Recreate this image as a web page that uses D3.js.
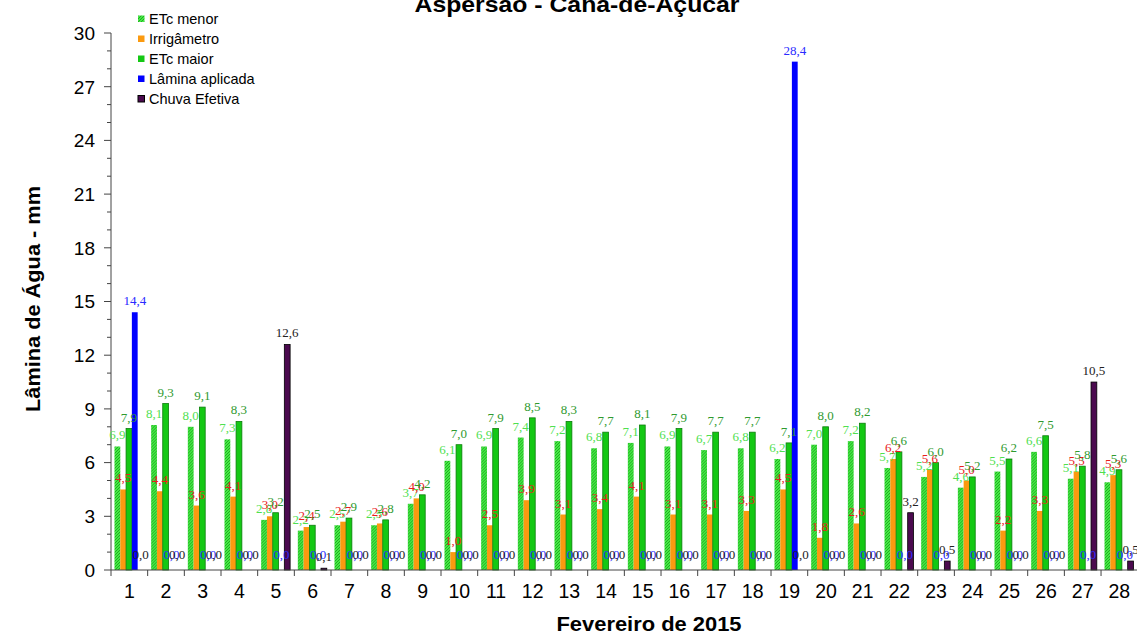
<!DOCTYPE html>
<html>
<head>
<meta charset="utf-8">
<script src="https://cdn.jsdelivr.net/npm/d3@7"></script>
<style>
  body { margin: 0; background: #fff; }
  text { font-family: "Liberation Sans", Arial, sans-serif; }
</style>
</head>
<body>
<script>
// dados
const dias = d3.range(1, 29);
const etcMenor = [6.9, 8.1, 8.0, 7.3, 2.8, 2.2, 2.5, 2.5, 3.7, 6.1, 6.9, 7.4, 7.2, 6.8,
  7.1, 6.9, 6.7, 6.8, 6.2, 7.0, 7.2, 5.7, 5.2, 4.6, 5.5, 6.6, 5.1, 4.9];
const irrigametro = [4.5, 4.4, 3.6, 4.1, 3.0, 2.4, 2.7, 2.6, 4.0, 1.0, 2.5, 3.9, 3.1, 3.4,
  4.1, 3.1, 3.1, 3.3, 4.5, 1.8, 2.6, 6.2, 5.6, 5.0, 2.2, 3.3, 5.5, 5.3];
const etcMaior = [7.9, 9.3, 9.1, 8.3, 3.2, 2.5, 2.9, 2.8, 4.2, 7.0, 7.9, 8.5, 8.3, 7.7,
  8.1, 7.9, 7.7, 7.7, 7.1, 8.0, 8.2, 6.6, 6.0, 5.2, 6.2, 7.5, 5.8, 5.6];
const laminaAplicada = [14.4, 0, 0, 0, 0, 0, 0, 0, 0, 0, 0, 0, 0, 0,
  0, 0, 0, 0, 28.4, 0, 0, 0, 0, 0, 0, 0, 0, 0];
const chuvaEfetiva = [0, 0, 0, 0, 12.6, 0.1, 0, 0, 0, 0, 0, 0, 0, 0,
  0, 0, 0, 0, 0, 0, 0, 3.2, 0.5, 0, 0, 0, 10.5, 0.5];
const yTicks = d3.range(0, 31, 3);

const series = [
  { nome: 'ETc menor', valores: etcMenor, fill: 'url(#padraoMenor)', stroke: 'none', rotulo: '#4fe04f' },
  { nome: 'Irrigâmetro', valores: irrigametro, fill: '#fb9a10', stroke: 'none', rotulo: '#e8201c' },
  { nome: 'ETc maior', valores: etcMaior, fill: '#14c814', stroke: '#0b7d0b', rotulo: '#2f9a2f' },
  { nome: 'Lâmina aplicada', valores: laminaAplicada, fill: '#0000ff', stroke: 'none', rotulo: '#2a2aff' },
  { nome: 'Chuva Efetiva', valores: chuvaEfetiva, fill: '#4b0a4f', stroke: '#000', rotulo: '#222' }
];

const W = 1137, H = 633;
const svg = d3.select('body').append('svg')
  .attr('width', W)
  .attr('height', H);

// padrão pontilhado da ETc menor
const defs = svg.append('defs');
const pat = defs.append('pattern')
  .attr('id', 'padraoMenor')
  .attr('width', 3).attr('height', 3)
  .attr('patternUnits', 'userSpaceOnUse');
pat.append('rect').attr('width', 3).attr('height', 3).attr('fill', '#44ea44');
pat.append('rect').attr('x', 0).attr('y', 0).attr('width', 1).attr('height', 1).attr('fill', '#22a822');
pat.append('rect').attr('x', 2).attr('y', 1).attr('width', 1).attr('height', 1).attr('fill', '#22a822');
pat.append('rect').attr('x', 1).attr('y', 2).attr('width', 1).attr('height', 1).attr('fill', '#22a822');

// escalas
const x = d3.scaleBand()
  .domain(dias)
  .range([111, 1137.7])
  .padding(0);
const bw = x.bandwidth();
const xSub = d3.scaleBand()
  .domain(series.map(s => s.nome))
  .range([bw * 0.095, bw * 0.885])
  .padding(0);
const y = d3.scaleLinear()
  .domain([0, 30])
  .range([570, 33]);

// título
svg.append('text')
  .attr('x', 577).attr('y', 12)
  .attr('text-anchor', 'middle')
  .attr('textLength', 325)
  .attr('lengthAdjust', 'spacingAndGlyphs')
  .style('font-size', '22px')
  .style('font-weight', 'bold')
  .text('Aspersão  - Cana-de-Açúcar');

// eixo y
const eixoY = svg.append('g').attr('transform', 'translate(111,0)');
eixoY.append('line')
  .attr('y1', y(0)).attr('y2', y(30))
  .attr('stroke', '#444');
eixoY.selectAll('.menor')
  .data(d3.range(0, 31))
  .enter().append('line')
  .attr('x1', d => d % 3 === 0 ? -7 : -4)
  .attr('x2', 0)
  .attr('y1', d => y(d)).attr('y2', d => y(d))
  .attr('stroke', '#444');
eixoY.selectAll('.rot')
  .data(yTicks)
  .enter().append('text')
  .attr('x', -16)
  .attr('y', d => y(d))
  .attr('dy', '0.36em')
  .attr('text-anchor', 'end')
  .style('font-size', '19px')
  .text(d => d);

svg.append('text')
  .attr('transform', 'translate(40,299) rotate(-90)')
  .attr('text-anchor', 'middle')
  .attr('textLength', 226)
  .attr('lengthAdjust', 'spacingAndGlyphs')
  .style('font-size', '19.5px')
  .style('font-weight', 'bold')
  .text('Lâmina de Água - mm');

// barras
const grupos = svg.selectAll('.dia')
  .data(dias)
  .enter().append('g')
  .attr('transform', d => `translate(${x(d)},0)`);

series.forEach(s => {
  grupos.append('rect')
    .attr('x', xSub(s.nome))
    .attr('width', xSub.bandwidth())
    .attr('y', (d, i) => y(s.valores[i]))
    .attr('height', (d, i) => y(0) - y(s.valores[i]))
    .attr('fill', s.fill)
    .attr('stroke', s.stroke)
    .attr('stroke-width', 0.8);
});

// rótulos dos valores
series.forEach(s => {
  grupos.append('text')
    .attr('x', xSub(s.nome) + xSub.bandwidth() / 2)
    .attr('y', (d, i) => y(s.valores[i]) - (s.valores[i] === 0 ? 11 : 7))
    .attr('text-anchor', 'middle')
    .style('font-family', '"Liberation Serif", "Times New Roman", serif')
    .style('font-size', '13px')
    .attr('fill', s.rotulo)
    .text((d, i) => d3.format('.1f')(s.valores[i]).replace('.', ','));
});

// eixo x
const eixoX = svg.append('g');
eixoX.append('line')
  .attr('x1', 111).attr('x2', W)
  .attr('y1', y(0)).attr('y2', y(0))
  .attr('stroke', '#444');
eixoX.selectAll('.tick')
  .data(dias)
  .enter().append('line')
  .attr('x1', d => x(d)).attr('x2', d => x(d))
  .attr('y1', y(0)).attr('y2', y(0) + 6)
  .attr('stroke', '#444');
eixoX.selectAll('.rot')
  .data(dias)
  .enter().append('text')
  .attr('x', d => x(d) + bw / 2)
  .attr('y', 598)
  .attr('text-anchor', 'middle')
  .style('font-size', '19.5px')
  .text(d => d);

svg.append('text')
  .attr('x', 649).attr('y', 631)
  .attr('text-anchor', 'middle')
  .attr('textLength', 185)
  .attr('lengthAdjust', 'spacingAndGlyphs')
  .style('font-size', '19.5px')
  .style('font-weight', 'bold')
  .text('Fevereiro de 2015');

// legenda
const legenda = svg.append('g').attr('transform', 'translate(138,12)');
const itens = legenda.selectAll('g')
  .data(series)
  .enter().append('g')
  .attr('transform', (d, i) => `translate(0,${i * 20})`);
itens.append('rect')
  .attr('width', 6.5).attr('height', 6.5)
  .attr('y', 3.5)
  .attr('fill', d => d.fill)
  .attr('stroke', d => d.nome === 'Chuva Efetiva' ? '#000' : 'none');
itens.append('text')
  .attr('x', 11).attr('y', 12)
  .style('font-size', '14.5px')
  .text(d => d.nome);
</script>
</body>
</html>
